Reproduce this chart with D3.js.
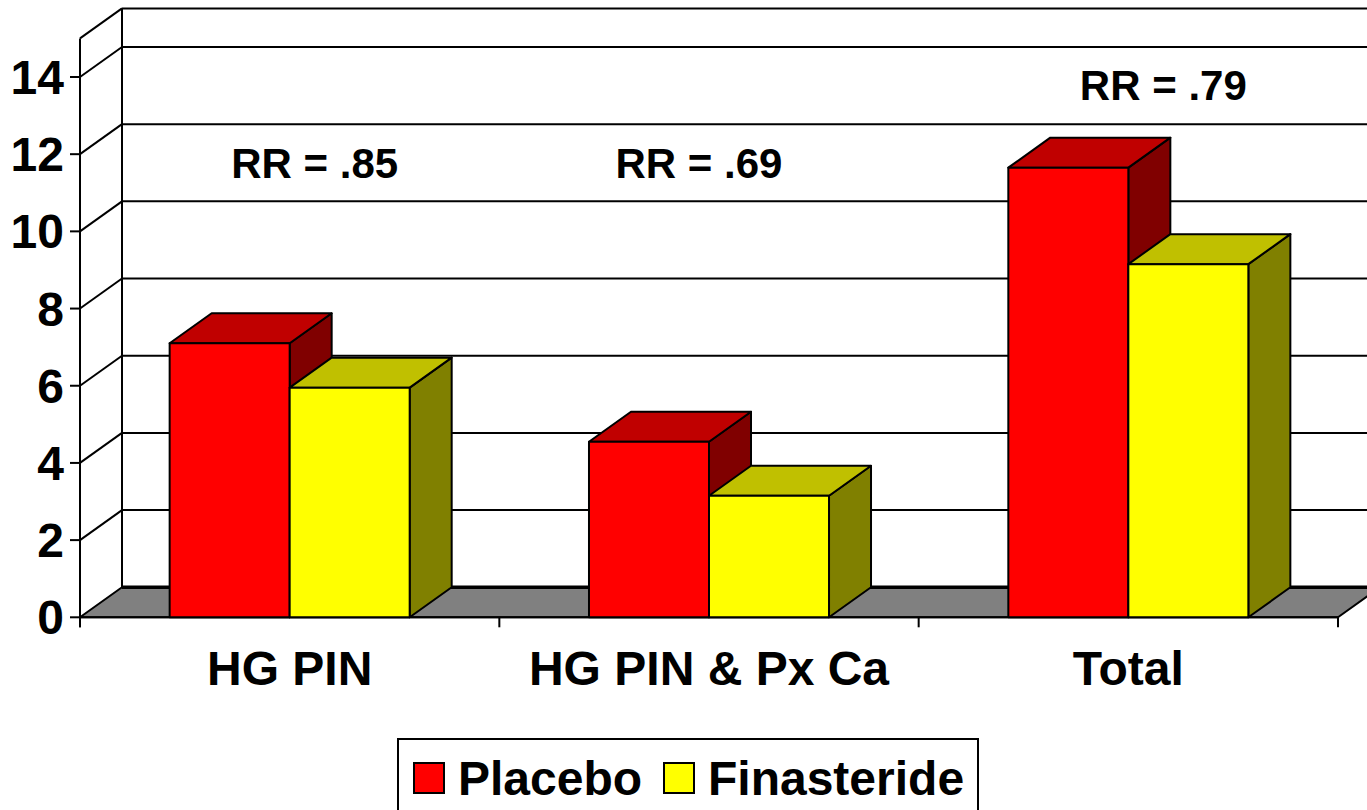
<!DOCTYPE html>
<html>
<head>
<meta charset="utf-8">
<script src="https://cdn.jsdelivr.net/npm/d3@7"></script>
<style>
  html, body { margin: 0; padding: 0; background: #fff; }
  svg { display: block; font-family: "Liberation Sans", Arial, Helvetica, sans-serif; font-weight: bold; }
</style>
</head>
<body>
<svg id="chart" width="1367" height="810"></svg>
<script>
// ---- data ----
const categories = ["HG PIN", "HG PIN & Px Ca", "Total"];
const seriesNames = ["Placebo", "Finasteride"];
const placebo = [7.1, 4.55, 11.65];
const finasteride = [5.95, 3.15, 9.15];
const rrLabels = ["RR = .85", "RR = .69", "RR = .79"];
const yTicks = [0, 2, 4, 6, 8, 10, 12, 14];
const yMax = 15;

// ---- layout / style ----
const W = 1367, H = 810;
const left = 80, right = 1338, y0 = 617.3, yTop = 38.4;
const DX = 42, DY = -30;
const fills = {
  Placebo: { front: "#FF0000", top: "#C00000", side: "#800000" },
  Finasteride: { front: "#FFFF00", top: "#C0C000", side: "#808000" }
};
// annotation anchors (offset from category centre in px, height in value units)
const rrDx = [25, -10, 35];
const rrVal = [11.38, 11.38, 13.4];

const svg = d3.select("#chart");

const x = d3.scaleBand().domain(categories).range([left, right]).paddingInner(0).paddingOuter(0);
const xs = d3.scaleBand().domain(seriesNames).range([0, x.bandwidth()]).paddingInner(0).paddingOuter(0.747);
const y = d3.scaleLinear().domain([0, yMax]).range([y0, yTop]);

const g = svg.append("g");

// back wall gridlines
const gridVals = yTicks.filter(v => v > 0).concat([yMax]);
g.selectAll("line.bgrid").data(gridVals).enter().append("line")
  .attr("x1", left + DX).attr("x2", right + DX + 10)
  .attr("y1", d => y(d) + DY).attr("y2", d => y(d) + DY)
  .attr("stroke", "#000").attr("stroke-width", 2);

// left wall diagonal gridlines
g.selectAll("line.lgrid").data(gridVals).enter().append("line")
  .attr("x1", left).attr("x2", left + DX)
  .attr("y1", d => y(d)).attr("y2", d => y(d) + DY)
  .attr("stroke", "#000").attr("stroke-width", 2);

// back wall left vertical edge
g.append("line")
  .attr("x1", left + DX).attr("x2", left + DX)
  .attr("y1", y(yMax) + DY).attr("y2", y(0) + DY)
  .attr("stroke", "#000").attr("stroke-width", 2);

// floor
g.append("polygon")
  .attr("points", [[left, y(0)], [right, y(0)], [right + DX, y(0) + DY], [left + DX, y(0) + DY]].map(p => p.join(",")).join(" "))
  .attr("fill", "#808080").attr("stroke", "#000").attr("stroke-width", 2).attr("stroke-linejoin", "round");
g.append("line")
  .attr("x1", left + DX).attr("x2", right + DX + 10)
  .attr("y1", y(0) + DY).attr("y2", y(0) + DY)
  .attr("stroke", "#000").attr("stroke-width", 3.5);

// front y axis
g.append("line").attr("x1", left).attr("x2", left).attr("y1", y(yMax)).attr("y2", y(0) + 10)
  .attr("stroke", "#000").attr("stroke-width", 2);
g.selectAll("line.ytick").data(yTicks).enter().append("line")
  .attr("x1", left - 10).attr("x2", left).attr("y1", d => y(d)).attr("y2", d => y(d))
  .attr("stroke", "#000").attr("stroke-width", 2);
g.selectAll("text.ytl").data(yTicks).enter().append("text")
  .attr("x", left - 16).attr("y", d => y(d) + 17)
  .attr("text-anchor", "end").attr("font-size", 48).text(d => d);

// x axis front edge and ticks
g.append("line").attr("x1", left).attr("x2", right).attr("y1", y(0)).attr("y2", y(0))
  .attr("stroke", "#000").attr("stroke-width", 2);
const bounds = categories.map(c => x(c)).concat([right]);
g.selectAll("line.xtick").data(bounds).enter().append("line")
  .attr("x1", d => d).attr("x2", d => d).attr("y1", y(0)).attr("y2", y(0) + 10)
  .attr("stroke", "#000").attr("stroke-width", 2);

// bars
const rows = [];
categories.forEach((c, i) => {
  rows.push({ c, s: "Placebo", v: placebo[i] });
  rows.push({ c, s: "Finasteride", v: finasteride[i] });
});
const bars = g.selectAll("g.bar").data(rows).enter().append("g");
const pts = a => a.map(p => p.join(",")).join(" ");
bars.each(function (d) {
  const x0 = x(d.c) + xs(d.s), x1 = x0 + xs.bandwidth();
  const yt = y(d.v), yb = y(0);
  const sel = d3.select(this);
  const st = s => s.attr("stroke", "#000").attr("stroke-width", 2).attr("stroke-linejoin", "round");
  st(sel.append("polygon").attr("points", pts([[x1, yt], [x1 + DX, yt + DY], [x1 + DX, yb + DY], [x1, yb]])).attr("fill", fills[d.s].side));
  st(sel.append("polygon").attr("points", pts([[x0, yt], [x1, yt], [x1 + DX, yt + DY], [x0 + DX, yt + DY]])).attr("fill", fills[d.s].top));
  st(sel.append("rect").attr("x", x0).attr("y", yt).attr("width", x1 - x0).attr("height", yb - yt).attr("fill", fills[d.s].front));
});

// category labels
g.selectAll("text.cat").data(categories).enter().append("text")
  .attr("x", d => x(d) + x.bandwidth() / 2).attr("y", 685)
  .attr("text-anchor", "middle").attr("font-size", 48).text(d => d);

// RR annotations
g.selectAll("text.rr").data(rrLabels).enter().append("text")
  .attr("x", (d, i) => x(categories[i]) + x.bandwidth() / 2 + rrDx[i])
  .attr("y", (d, i) => y(rrVal[i]))
  .attr("text-anchor", "middle").attr("font-size", 42).text(d => d);

// legend
const lg = svg.append("g");
lg.append("rect").attr("x", 398).attr("y", 739).attr("width", 580).attr("height", 100)
  .attr("fill", "#fff").attr("stroke", "#000").attr("stroke-width", 2);
const legX = [414, 664];
seriesNames.forEach((s, i) => {
  lg.append("rect").attr("x", legX[i]).attr("y", 763).attr("width", 30).attr("height", 30)
    .attr("fill", fills[s].front).attr("stroke", "#000").attr("stroke-width", 2);
  lg.append("text").attr("x", legX[i] + 44).attr("y", 795).attr("font-size", 48).text(s);
});
</script>
</body>
</html>
